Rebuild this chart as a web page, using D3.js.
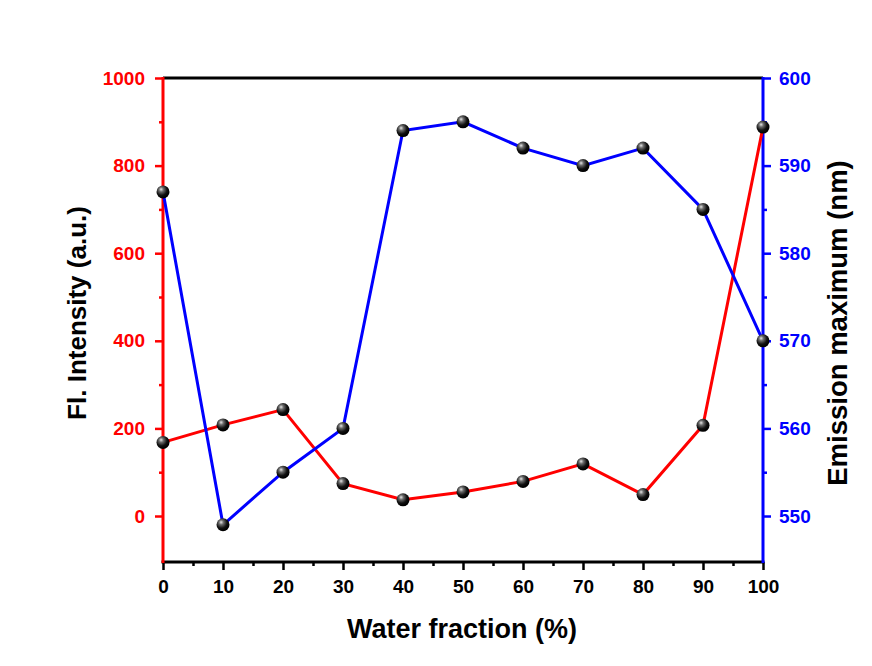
<!DOCTYPE html>
<html>
<head>
<meta charset="utf-8">
<script src="https://cdn.jsdelivr.net/npm/d3@7"></script>
<style>
  body { margin: 0; background: #fff; }
  svg text { font-family: "Liberation Sans", Arial, sans-serif; font-weight: bold; }
</style>
</head>
<body>
<div class="chart"></div>
<script>
// data
const water = [0, 10, 20, 30, 40, 50, 60, 70, 80, 90, 100];
const intensity = [168, 208, 243, 74, 37, 55, 79, 119, 49, 207, 888];
const emission = [587, 549, 555, 560, 594, 595, 592, 590, 592, 585, 570];

const xTicks = [0, 10, 20, 30, 40, 50, 60, 70, 80, 90, 100];
const leftTicks = [0, 200, 400, 600, 800, 1000];
const rightTicks = [550, 560, 570, 580, 590, 600];

const W = 872, H = 666;

const svg = d3.select('.chart').append('svg').attr('width', W).attr('height', H);

const defs = svg.append('defs');
const grad = defs.append('radialGradient').attr('id', 'ball')
  .attr('cx', '40%').attr('cy', '35%').attr('r', '60%')
  .attr('fx', '35%').attr('fy', '30%');
grad.append('stop').attr('offset', '0%').attr('stop-color', '#e6e6e6');
grad.append('stop').attr('offset', '30%').attr('stop-color', '#6a6a6a');
grad.append('stop').attr('offset', '70%').attr('stop-color', '#111');
grad.append('stop').attr('offset', '100%').attr('stop-color', '#000');

// scales
const x = d3.scaleLinear().domain([0, 100]).range([163, 763]);
const yL = d3.scaleLinear().domain([-105, 1000]).range([562, 78]);
const yR = d3.scaleLinear().domain([544.75, 600]).range([562, 78]);

// top frame line
svg.append('line')
  .attr('x1', x(0)).attr('x2', x(100)).attr('y1', 78).attr('y2', 78)
  .attr('stroke', '#000').attr('stroke-width', 3);

function styleAxis(g, color) {
  g.select('.domain').remove();
  g.selectAll('line').attr('stroke', color).attr('stroke-width', 2.5);
  g.selectAll('text').attr('fill', color).style('font-size', '19px');
}

// bottom axis
const xg = svg.append('g').attr('transform', 'translate(0,562)');
xg.call(d3.axisBottom(x).tickValues(xTicks).tickSize(8).tickPadding(10).tickFormat(d3.format('d')));
styleAxis(xg, '#000');
const xm = svg.append('g').attr('transform', 'translate(0,562)');
xm.call(d3.axisBottom(x).tickValues(d3.range(5, 100, 10)).tickSize(4).tickFormat(''));
styleAxis(xm, '#000');
svg.append('line').attr('x1', x(0) - 1.5).attr('x2', x(100) + 1.5).attr('y1', 562).attr('y2', 562)
  .attr('stroke', '#000').attr('stroke-width', 3);

// left axis
const lg = svg.append('g').attr('transform', 'translate(163,0)');
lg.call(d3.axisLeft(yL).tickValues(leftTicks).tickSize(8).tickPadding(10).tickFormat(d3.format('d')));
styleAxis(lg, '#f00');
const lm = svg.append('g').attr('transform', 'translate(163,0)');
lm.call(d3.axisLeft(yL).tickValues([100, 300, 500, 700, 900]).tickSize(4).tickFormat(''));
styleAxis(lm, '#f00');
svg.append('line').attr('x1', 163).attr('x2', 163).attr('y1', 77).attr('y2', 563)
  .attr('stroke', '#f00').attr('stroke-width', 3);

// right axis
const rg = svg.append('g').attr('transform', 'translate(763,0)');
rg.call(d3.axisRight(yR).tickValues(rightTicks).tickSize(8).tickPadding(8).tickFormat(d3.format('d')));
styleAxis(rg, '#00f');
const rm = svg.append('g').attr('transform', 'translate(763,0)');
rm.call(d3.axisRight(yR).tickValues([555, 565, 575, 585, 595]).tickSize(4).tickFormat(''));
styleAxis(rm, '#00f');
svg.append('line').attr('x1', 763).attr('x2', 763).attr('y1', 77).attr('y2', 563)
  .attr('stroke', '#00f').attr('stroke-width', 3);

// lines
const redLine = d3.line().x((d, i) => x(water[i])).y(d => yL(d));
const blueLine = d3.line().x((d, i) => x(water[i])).y(d => yR(d));

svg.append('path').datum(intensity)
  .attr('fill', 'none').attr('stroke', '#f00').attr('stroke-width', 3)
  .attr('d', redLine);
svg.append('path').datum(emission)
  .attr('fill', 'none').attr('stroke', '#00f').attr('stroke-width', 3)
  .attr('d', blueLine);

// markers
svg.append('g').selectAll('circle').data(intensity).join('circle')
  .attr('cx', (d, i) => x(water[i])).attr('cy', d => yL(d))
  .attr('r', 6.5).attr('fill', 'url(#ball)');
svg.append('g').selectAll('circle').data(emission).join('circle')
  .attr('cx', (d, i) => x(water[i])).attr('cy', d => yR(d))
  .attr('r', 6.5).attr('fill', 'url(#ball)');

// axis titles
svg.append('text').attr('x', 462).attr('y', 638).attr('text-anchor', 'middle')
  .style('font-size', '27px').attr('fill', '#000').text('Water fraction (%)');
svg.append('text').attr('transform', 'translate(86,313) rotate(-90)').attr('text-anchor', 'middle')
  .style('font-size', '26px').attr('fill', '#000').text('Fl. Intensity (a.u.)');
svg.append('text').attr('transform', 'translate(847,323) rotate(-90)').attr('text-anchor', 'middle')
  .style('font-size', '27.5px').attr('fill', '#000').text('Emission maximum (nm)');
</script>
</body>
</html>
